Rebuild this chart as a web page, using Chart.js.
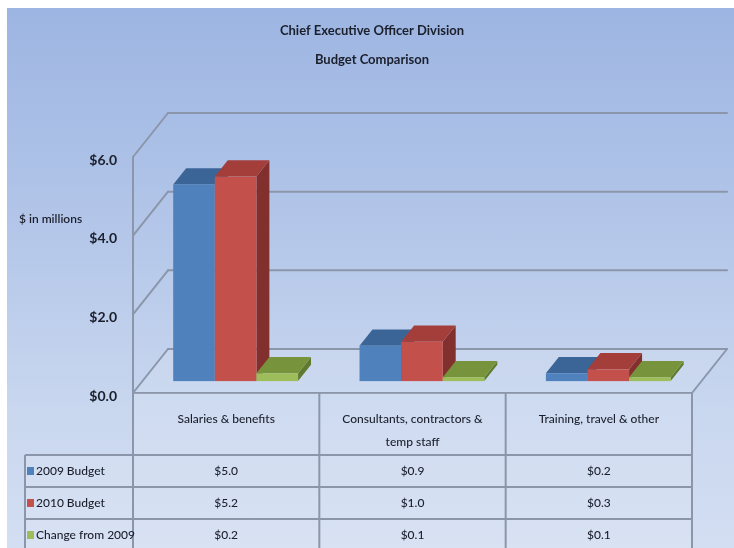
<!DOCTYPE html>
<html>
<head>
<meta charset="utf-8">
<title>Chief Executive Officer Division - Budget Comparison</title>
<script src="https://cdn.jsdelivr.net/npm/chart.js@4.4.1/dist/chart.umd.min.js"></script>
<style>
  html, body { margin: 0; background: #fff; }
  #wrap { position: relative; width: 734px; height: 548px; overflow: hidden; }
  #bg {
    position: absolute; left: 7px; top: 8px; right: 0; bottom: 0;
    background: linear-gradient(#9db5e2 0%, #b3c6e9 40%, #c9d7ef 75%, #d3def2 100%);
  }
  #chart { position: absolute; left: 0; top: 0; }
</style>
</head>
<body>
<div id="wrap">
  <div id="bg"></div>
  <canvas id="chart" width="734" height="548"></canvas>
</div>
<script>
const categories = [
  ["Salaries & benefits"],
  ["Consultants, contractors &", "temp staff"],
  ["Training, travel & other"]
];
const seriesNames = ["2009 Budget", "2010 Budget", "Change from 2009"];
const budget2009 = [5.0, 0.9, 0.2];
const budget2010 = [5.2, 1.0, 0.3];
const changeFrom2009 = [0.2, 0.1, 0.1];
const yTicks = [0, 2, 4, 6];

const FONT = "Lato, 'Open Sans', sans-serif";
const TEXT = "#1b1f2c";
const GRID = "#8b96aa";

// front / top / side shades of each series
const shades = [
  { front: "#4f81bd", top: "#3b6597", side: "#2f527c" },
  { front: "#c4504c", top: "#a33e3b", side: "#82302d" },
  { front: "#9dbd5a", top: "#77933c", side: "#5f7a2e" }
];

// depth of the floor, and where the bars stand in it
const DEPTH_X = 35, DEPTH_Y = 44;
const BAR_Z = 0.27, BAR_D = 0.37;

function line(ctx, x1, y1, x2, y2) {
  ctx.beginPath();
  ctx.moveTo(x1, y1);
  ctx.lineTo(x2, y2);
  ctx.stroke();
}

function poly(ctx, pts, color) {
  ctx.beginPath();
  ctx.moveTo(pts[0][0], pts[0][1]);
  for (let k = 1; k < pts.length; k++) ctx.lineTo(pts[k][0], pts[k][1]);
  ctx.closePath();
  ctx.fillStyle = color;
  ctx.fill();
}

const box3d = {
  id: "box3d",
  beforeDatasetsDraw(chart) {
    const { ctx, chartArea: a, scales: { y } } = chart;
    ctx.save();

    // floor tint
    poly(ctx, [[a.left, a.bottom], [a.right, a.bottom],
      [a.right + DEPTH_X, a.bottom - DEPTH_Y], [a.left + DEPTH_X, a.bottom - DEPTH_Y]],
      "rgba(255,255,255,0.10)");

    ctx.strokeStyle = GRID;
    ctx.lineWidth = 2;
    ctx.lineCap = "round";
    yTicks.forEach(v => {
      const py = y.getPixelForValue(v);
      line(ctx, a.left, py, a.left + DEPTH_X, py - DEPTH_Y);
      line(ctx, a.left + DEPTH_X, py - DEPTH_Y, a.right + DEPTH_X, py - DEPTH_Y);
    });
    line(ctx, a.left, y.getPixelForValue(yTicks[yTicks.length - 1]), a.left, a.bottom);
    line(ctx, a.left, a.bottom, a.right, a.bottom);
    line(ctx, a.right, a.bottom, a.right + DEPTH_X, a.bottom - DEPTH_Y);

    // boxes, left to right so each one hides the side of its neighbour
    const ox = DEPTH_X * BAR_Z, oy = -DEPTH_Y * BAR_Z;
    const bx = DEPTH_X * BAR_D, by = -DEPTH_Y * BAR_D;
    for (let j = 0; j < categories.length; j++) {
      chart.data.datasets.forEach((ds, i) => {
        const bar = chart.getDatasetMeta(i).data[j];
        const p = bar.getProps(["x", "y", "base", "width"], true);
        const x0 = p.x - p.width / 2 + ox, x1 = p.x + p.width / 2 + ox;
        const t = p.y + oy, b = p.base + oy;
        const c = shades[i];
        poly(ctx, [[x1, b], [x1, t], [x1 + bx, t + by], [x1 + bx, b + by]], c.side);
        poly(ctx, [[x0, t], [x1, t], [x1 + bx, t + by], [x0 + bx, t + by]], c.top);
        ctx.fillStyle = c.front;
        ctx.fillRect(x0, t, x1 - x0, b - t);
      });
    }

    // axis caption
    ctx.fillStyle = TEXT;
    ctx.font = "600 12px " + FONT;
    ctx.textBaseline = "middle";
    ctx.textAlign = "left";
    ctx.fillText("$ in millions", 19, 219);

    ctx.restore();
    return false;
  }
};

const dataTable = {
  id: "dataTable",
  afterDraw(chart) {
    const { ctx, chartArea: a, scales: { x } } = chart;
    const half = (x.getPixelForValue(1) - x.getPixelForValue(0)) / 2;
    const legendLeft = 25;
    const headTop = a.bottom, headBottom = 455, rowH = 32;
    const rows = chart.data.datasets.length;
    const tableBottom = headBottom + rows * rowH;

    ctx.save();
    ctx.fillStyle = "rgba(255,255,255,0.12)";
    ctx.fillRect(a.left, headTop, a.right - a.left, tableBottom - headTop);
    ctx.fillRect(legendLeft, headBottom, a.left - legendLeft, tableBottom - headBottom);

    ctx.strokeStyle = GRID;
    ctx.lineWidth = 2;
    for (let r = 0; r < rows; r++) {
      const ry = headBottom + r * rowH;
      line(ctx, legendLeft, ry, a.right, ry);
    }
    line(ctx, legendLeft, headBottom, legendLeft, tableBottom);
    line(ctx, a.left, headTop, a.left, tableBottom);
    for (let j = 0; j < categories.length; j++) {
      const rx = x.getPixelForValue(j) + half;
      line(ctx, rx, headTop, rx, tableBottom);
    }

    ctx.fillStyle = TEXT;
    ctx.textAlign = "center";
    ctx.textBaseline = "middle";
    ctx.font = "500 12px " + FONT;
    categories.forEach((lines, j) => {
      const cx = x.getPixelForValue(j);
      lines.forEach((s, k) => ctx.fillText(s, cx, 419 + k * 23));
    });

    chart.data.datasets.forEach((ds, i) => {
      const cy = headBottom + i * rowH + rowH / 2;
      ds.data.forEach((v, j) => {
        ctx.fillStyle = TEXT;
        ctx.textAlign = "center";
        ctx.fillText("$" + v.toFixed(1), x.getPixelForValue(j), cy);
      });
      ctx.fillStyle = shades[i].front;
      ctx.fillRect(27, cy - 4, 7, 8);
      ctx.fillStyle = TEXT;
      ctx.textAlign = "left";
      ctx.fillText(ds.label, 36, cy);
    });
    ctx.restore();
  }
};

new Chart(document.getElementById("chart"), {
  type: "bar",
  data: {
    labels: categories,
    datasets: [budget2009, budget2010, changeFrom2009].map((values, i) => ({
      label: seriesNames[i],
      data: values,
      backgroundColor: shades[i].front,
      categoryPercentage: 0.67,
      barPercentage: 1
    }))
  },
  options: {
    responsive: false,
    animation: false,
    devicePixelRatio: 1,
    layout: { padding: { left: 10, right: 0, top: 0, bottom: 155 } },
    plugins: {
      legend: { display: false },
      tooltip: { enabled: false },
      title: {
        display: true,
        text: ["Chief Executive Officer Division", "Budget Comparison"],
        color: TEXT,
        font: { family: FONT, size: 13, weight: "bold", lineHeight: "29px" },
        padding: { top: 16, bottom: 83 }
      }
    },
    scales: {
      x: { display: false },
      y: {
        min: 0,
        max: 6,
        ticks: {
          stepSize: 2,
          padding: 16,
          labelOffset: 3,
          color: TEXT,
          font: { family: FONT, size: 14, weight: "bold" },
          callback: v => "$" + v.toFixed(1)
        },
        grid: { display: false, drawTicks: false },
        border: { display: false },
        afterFit(scale) { scale.width = 123; }
      },
      yRight: {
        position: "right",
        ticks: { display: false },
        grid: { display: false, drawTicks: false },
        border: { display: false },
        afterFit(scale) { scale.width = 42; }
      }
    }
  },
  plugins: [box3d, dataTable]
});
</script>
</body>
</html>
